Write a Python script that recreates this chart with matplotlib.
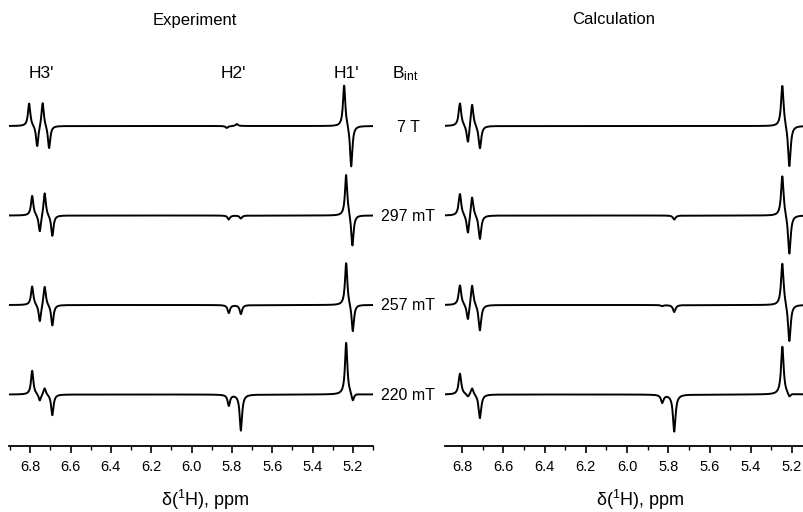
import numpy as np
import matplotlib
matplotlib.use("Agg")
import matplotlib.pyplot as plt
from matplotlib.ticker import MultipleLocator

plt.rcParams['font.family'] = ['Liberation Sans', 'DejaVu Sans']
plt.rcParams['mathtext.fontset'] = 'custom'
plt.rcParams['mathtext.rm'] = 'Liberation Sans'
plt.rcParams['mathtext.it'] = 'Liberation Sans'

# ---- data ----
fields = ["7 T", "297 mT", "257 mT", "220 mT"]
multiplets = ["H3'", "H2'", "H1'"]
tick_labels = ["6.8", "6.6", "6.4", "6.2", "6.0", "5.8", "5.6", "5.4", "5.2"]
tick_values = [6.8, 6.6, 6.4, 6.2, 6.0, 5.8, 5.6, 5.4, 5.2]

# experiment: line positions (ppm) and signed intensities (a.u.)
exp_pos_7T = [6.805, 6.765, 6.738, 6.706, 5.825, 5.775, 5.243, 5.208]
exp_amp_7T = [23, -22, 25, -23, -2, 2, 42, -42]
exp_pos_297 = [6.790, 6.752, 6.728, 6.690, 5.815, 5.755, 5.233, 5.202]
exp_amp_297 = [20, -18, 24, -21, -4, -3, 42, -32]
exp_pos_257 = [6.790, 6.752, 6.728, 6.690, 5.815, 5.755, 5.233, 5.200]
exp_amp_257 = [19, -18, 20, -21, -8, -9, 43, -28]
exp_pos_220 = [6.790, 6.752, 6.728, 6.690, 5.815, 5.755, 5.233, 5.200]
exp_amp_220 = [24, -7, 7, -21, -11, -36, 52, -8]

# calculation
calc_pos = [6.810, 6.771, 6.751, 6.713, 5.829, 5.771, 5.247, 5.213]
calc_amp_7T = [23, -19, 24, -23, 0, 0, 42, -42]
calc_amp_297 = [22, -20, 21, -24, 0, -4, 41, -40]
calc_amp_257 = [20, -17, 22, -26, -1, -7, 43, -38]
calc_amp_220 = [21, -3, 7, -24, -8, -37, 48, -4]

exp_sets = [(exp_pos_7T, exp_amp_7T), (exp_pos_297, exp_amp_297),
            (exp_pos_257, exp_amp_257), (exp_pos_220, exp_amp_220)]
calc_sets = [(calc_pos, calc_amp_7T), (calc_pos, calc_amp_297),
             (calc_pos, calc_amp_257), (calc_pos, calc_amp_220)]


def spectrum(x, pos, amp, w):
    y = np.zeros_like(x)
    for p, a in zip(pos, amp):
        y += a / (1.0 + ((x - p) / w) ** 2)
    return y


W, H = 804, 512
fig = plt.figure(figsize=(W / 100, H / 100), dpi=100)

ax_bottom_px = 446
ax_top_px = 60
axL = fig.add_axes([9 / W, (H - ax_bottom_px) / H, 364 / W, (ax_bottom_px - ax_top_px) / H])
axR = fig.add_axes([445 / W, (H - ax_bottom_px) / H, 358 / W, (ax_bottom_px - ax_top_px) / H])

base0 = ax_bottom_px - 126  # top trace baseline (in px-like units)
spacing = 89.5

for ax, sets, xlim, w in [(axL, exp_sets, (6.905, 5.10), 0.0070),
                          (axR, calc_sets, (6.8825, 5.147), 0.0075)]:
    x = np.linspace(xlim[1], xlim[0], 6000)
    for i, (pos, amp) in enumerate(sets):
        y = spectrum(x, pos, amp, w) + base0 - i * spacing
        ax.plot(x, y, color='black', lw=1.4, solid_joinstyle='round')
    ax.set_xlim(*xlim)
    ax.set_ylim(0, ax_bottom_px - ax_top_px)
    for s in ['top', 'right', 'left']:
        ax.spines[s].set_visible(False)
    ax.spines['bottom'].set_linewidth(1.3)
    ax.set_yticks([])
    ax.set_xticks(tick_values)
    ax.set_xticklabels(tick_labels)
    ax.xaxis.set_minor_locator(MultipleLocator(0.1))
    ax.tick_params(axis='x', which='major', direction='out', length=5, width=1.2,
                   labelsize=10.5, pad=5)
    ax.tick_params(axis='x', which='minor', direction='out', length=3, width=1.0)
    ax.patch.set_alpha(0)

for xc in [205, 640]:
    fig.text(xc / W, 1 - 500 / H, r"$\delta$($^1$H), ppm", ha='center', va='center',
             fontsize=13)

fig.text(195 / W, 1 - 20 / H, "Experiment", ha='center', va='center', fontsize=12)
fig.text(614 / W, 1 - 20 / H, "Calculation", ha='center', va='center', fontsize=12)

for name, xp in zip(multiplets, [41, 233, 346]):
    fig.text(xp / W, 1 - 73 / H, name, ha='center', va='center', fontsize=12.5)

fig.text(405 / W, 1 - 74 / H, r"B$_{\mathrm{int}}$", ha='center', va='center', fontsize=12.5)
for i, f in enumerate(fields):
    ypx = 127 + i * spacing
    fig.text(408 / W, 1 - ypx / H, f, ha='center', va='center', fontsize=11.5)

fig.savefig("out.png", dpi=100)
